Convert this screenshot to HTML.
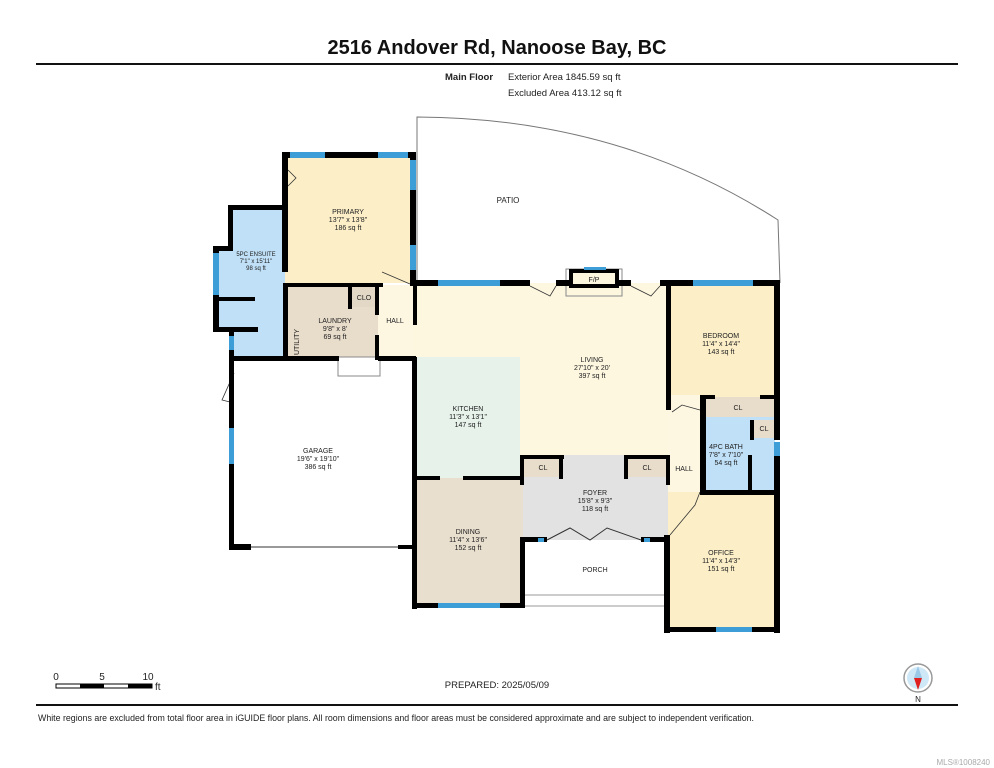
<!DOCTYPE html>
<html><head><meta charset="utf-8"><style>
html,body{margin:0;padding:0;background:#fff;}
svg{display:block;font-family:"Liberation Sans",sans-serif;}
</style></head><body>
<svg width="994" height="768" viewBox="0 0 994 768" xmlns="http://www.w3.org/2000/svg">
<text x="497" y="54" text-anchor="middle" font-size="20" font-weight="bold" fill="#111">2516 Andover Rd, Nanoose Bay, BC</text>
<rect x="36" y="63" width="922" height="2" fill="#111"/>
<text x="445" y="80" font-size="9.5" font-weight="bold" fill="#222">Main Floor</text>
<text x="508" y="80" font-size="9.5" fill="#222">Exterior Area 1845.59 sq ft</text>
<text x="508" y="96" font-size="9.5" fill="#222">Excluded Area 413.12 sq ft</text>

<!-- patio -->
<path d="M417 283 L417 117 Q620 118 778 220 L780 283" fill="none" stroke="#777" stroke-width="1"/>
<text x="508" y="203" text-anchor="middle" font-size="8" fill="#222">PATIO</text>

<!-- room fills -->
<rect x="285" y="155" width="128" height="128" fill="#fcefc8"/>
<rect x="230" y="207" width="55" height="123" fill="#bfe0f7"/>
<rect x="214" y="248" width="20" height="82" fill="#bfe0f7"/>
<rect x="232" y="330" width="53" height="27" fill="#bfe0f7"/>
<rect x="286" y="285" width="92" height="72" fill="#e8dccb"/>
<rect x="351" y="287" width="25" height="20" fill="#e3d8c6"/>
<rect x="378" y="285" width="40" height="72" fill="#fdf7e2"/>
<rect x="413" y="283" width="255" height="172" fill="#fdf7e0"/>
<rect x="417" y="357" width="103" height="121" fill="#e6f2ea"/>
<rect x="413" y="478" width="110" height="127" fill="#e9dfcf"/>
<rect x="523" y="455" width="145" height="85" fill="#e2e2e2"/>
<rect x="523" y="456" width="38" height="21" fill="#e8dccb"/>
<rect x="627" y="456" width="39" height="21" fill="#e8dccb"/>
<rect x="668" y="283" width="107" height="114" fill="#fcefc8"/>
<rect x="668" y="395" width="34" height="145" fill="#fdf7e2"/>
<rect x="702" y="397" width="73" height="20" fill="#e8dccb"/>
<rect x="702" y="417" width="73" height="75" fill="#c0e0f7"/>
<rect x="754" y="420" width="21" height="18" fill="#e8dccb"/>
<rect x="668" y="492" width="109" height="138" fill="#fcefc8"/>

<!-- fireplace -->
<rect x="566" y="269" width="56" height="27" fill="none" stroke="#888" stroke-width="1"/>
<rect x="571" y="271" width="46" height="15" fill="#fdf7e0" stroke="#000" stroke-width="4"/>
<rect x="584" y="267" width="22" height="3" fill="#3d9dd6"/>
<text x="594" y="282" text-anchor="middle" font-size="7" fill="#222">F/P</text>
<rect x="338" y="357" width="42" height="19" fill="#fff" stroke="#888" stroke-width="1"/>

<!-- door swings -->
<g fill="none" stroke="#333" stroke-width="0.8">
<path d="M288 170 L296 178 L288 186"/>
<path d="M382 272 L410 284"/>
<path d="M530 286 L550 296 L556 286"/>
<path d="M631 286 L651 296 L660 286"/>
<path d="M234 373 L222 400 L234 403"/>
<path d="M672 412 L682 405 L700 410"/>
<path d="M670 535 L695 505 L700 492"/>
</g>

<g fill="#000">
<rect x="282" y="152" width="134" height="6"/>
<rect x="282" y="152" width="6" height="120"/>
<rect x="410" y="152" width="6" height="134"/>
<rect x="228" y="205" width="58" height="5"/>
<rect x="228" y="205" width="5" height="45"/>
<rect x="213" y="246" width="20" height="5"/>
<rect x="213" y="246" width="6" height="86"/>
<rect x="213" y="327" width="45" height="5"/>
<rect x="218" y="297" width="37" height="4"/>
<rect x="229" y="327" width="5" height="222"/>
<rect x="283" y="283" width="5" height="77"/>
<rect x="283" y="283" width="100" height="4"/>
<rect x="348" y="285" width="4" height="24"/>
<rect x="375" y="285" width="4" height="30"/>
<rect x="375" y="335" width="4" height="25"/>
<rect x="229" y="356" width="110" height="5"/>
<rect x="378" y="356" width="38" height="5"/>
<rect x="413" y="280" width="25" height="6"/>
<rect x="500" y="280" width="30" height="6"/>
<rect x="556" y="280" width="15" height="6"/>
<rect x="617" y="280" width="14" height="6"/>
<rect x="660" y="280" width="35" height="6"/>
<rect x="753" y="280" width="27" height="6"/>
<rect x="413" y="280" width="4" height="45"/>
<rect x="774" y="280" width="6" height="160"/>
<rect x="666" y="280" width="5" height="130"/>
<rect x="700" y="395" width="6" height="100"/>
<rect x="700" y="395" width="15" height="4"/>
<rect x="760" y="395" width="20" height="4"/>
<rect x="750" y="420" width="4" height="20"/>
<rect x="748" y="455" width="4" height="38"/>
<rect x="774" y="455" width="6" height="178"/>
<rect x="700" y="490" width="80" height="5"/>
<rect x="664" y="535" width="6" height="98"/>
<rect x="664" y="627" width="52" height="5"/>
<rect x="752" y="627" width="28" height="5"/>
<rect x="666" y="455" width="4" height="30"/>
<rect x="520" y="455" width="4" height="30"/>
<rect x="520" y="455" width="44" height="4"/>
<rect x="559" y="455" width="4" height="24"/>
<rect x="624" y="455" width="4" height="24"/>
<rect x="624" y="455" width="45" height="4"/>
<rect x="520" y="537" width="27" height="5"/>
<rect x="641" y="537" width="28" height="5"/>
<rect x="520" y="537" width="5" height="70"/>
<rect x="412" y="357" width="5" height="252"/>
<rect x="412" y="476" width="28" height="4"/>
<rect x="463" y="476" width="60" height="4"/>
<rect x="412" y="603" width="26" height="5"/>
<rect x="500" y="603" width="25" height="5"/>
<rect x="398" y="545" width="17" height="4"/>
<rect x="229" y="544" width="22" height="6"/>
<rect x="229" y="361" width="5" height="30"/>
</g>
<g fill="#3d9dd6">
<rect x="290" y="152" width="35" height="6"/>
<rect x="378" y="152" width="30" height="6"/>
<rect x="410" y="160" width="6" height="30"/>
<rect x="410" y="245" width="6" height="25"/>
<rect x="213" y="253" width="6" height="42"/>
<rect x="229" y="336" width="5" height="14"/>
<rect x="229" y="428" width="5" height="36"/>
<rect x="438" y="280" width="62" height="6"/>
<rect x="693" y="280" width="60" height="6"/>
<rect x="774" y="442" width="6" height="14"/>
<rect x="716" y="627" width="36" height="5"/>
<rect x="438" y="603" width="62" height="5"/>
<rect x="538" y="538" width="6" height="4"/>
<rect x="644" y="538" width="6" height="4"/>
</g>
<line x1="251" y1="547" x2="398" y2="547" stroke="#999" stroke-width="2"/>
<line x1="525" y1="595" x2="664" y2="595" stroke="#999" stroke-width="1"/>
<line x1="525" y1="606" x2="664" y2="606" stroke="#999" stroke-width="1"/>
<path d="M547 540 L570 528 L590 540 L607 528 L641 540" fill="none" stroke="#333" stroke-width="1"/>

<g font-size="7" fill="#222" text-anchor="middle">
<text x="348" y="214">PRIMARY</text><text x="348" y="222">13'7" x 13'8"</text><text x="348" y="230">186 sq ft</text>
<text x="256" y="256" font-size="6">5PC ENSUITE</text><text x="256" y="263" font-size="6">7'1" x 15'11"</text><text x="256" y="270" font-size="6">98 sq ft</text>
<text x="335" y="323">LAUNDRY</text><text x="335" y="331">9'8" x 8'</text><text x="335" y="339">69 sq ft</text>
<text x="364" y="300">CLO</text>
<text x="395" y="323">HALL</text>
<text x="299" y="342" transform="rotate(-90 299 342)">UTILITY</text>
<text x="592" y="362">LIVING</text><text x="592" y="370">27'10" x 20'</text><text x="592" y="378">397 sq ft</text>
<text x="468" y="411">KITCHEN</text><text x="468" y="419">11'3" x 13'1"</text><text x="468" y="427">147 sq ft</text>
<text x="318" y="453">GARAGE</text><text x="318" y="461">19'6" x 19'10"</text><text x="318" y="469">386 sq ft</text>
<text x="468" y="534">DINING</text><text x="468" y="542">11'4" x 13'6"</text><text x="468" y="550">152 sq ft</text>
<text x="595" y="495">FOYER</text><text x="595" y="503">15'8" x 9'3"</text><text x="595" y="511">118 sq ft</text>
<text x="543" y="470">CL</text><text x="647" y="470">CL</text>
<text x="595" y="572">PORCH</text>
<text x="721" y="338">BEDROOM</text><text x="721" y="346">11'4" x 14'4"</text><text x="721" y="354">143 sq ft</text>
<text x="738" y="410">CL</text><text x="764" y="431">CL</text>
<text x="726" y="449">4PC BATH</text><text x="726" y="457">7'8" x 7'10"</text><text x="726" y="465">54 sq ft</text>
<text x="684" y="471">HALL</text>
<text x="721" y="555">OFFICE</text><text x="721" y="563">11'4" x 14'3"</text><text x="721" y="571">151 sq ft</text>
</g>

<g font-size="10" fill="#222">
<text x="56" y="680" text-anchor="middle">0</text>
<text x="102" y="680" text-anchor="middle">5</text>
<text x="148" y="680" text-anchor="middle">10</text>
<text x="155" y="690">ft</text>
</g>
<rect x="56" y="684" width="96" height="4" fill="#fff" stroke="#000" stroke-width="1"/>
<rect x="80" y="684" width="24" height="4" fill="#000"/>
<rect x="128" y="684" width="24" height="4" fill="#000"/>
<text x="497" y="688" text-anchor="middle" font-size="9.5" fill="#222">PREPARED: 2025/05/09</text>
<circle cx="918" cy="678" r="14" fill="#fff" stroke="#999" stroke-width="1.5"/>
<circle cx="918" cy="678" r="11" fill="#cfe8f7"/>
<polygon points="918,666 922,678 914,678" fill="#9cc8e8"/>
<polygon points="918,690 922,678 914,678" fill="#e02020"/>
<text x="918" y="702" text-anchor="middle" font-size="8" fill="#222">N</text>
<rect x="36" y="704" width="922" height="2" fill="#111"/>
<text x="38" y="721" font-size="9" fill="#222" textLength="716" lengthAdjust="spacingAndGlyphs">White regions are excluded from total floor area in iGUIDE floor plans. All room dimensions and floor areas must be considered approximate and are subject to independent verification.</text>
<text x="990" y="765" text-anchor="end" font-size="8" fill="#aaa">MLS®1008240</text>
</svg>
</body></html>
